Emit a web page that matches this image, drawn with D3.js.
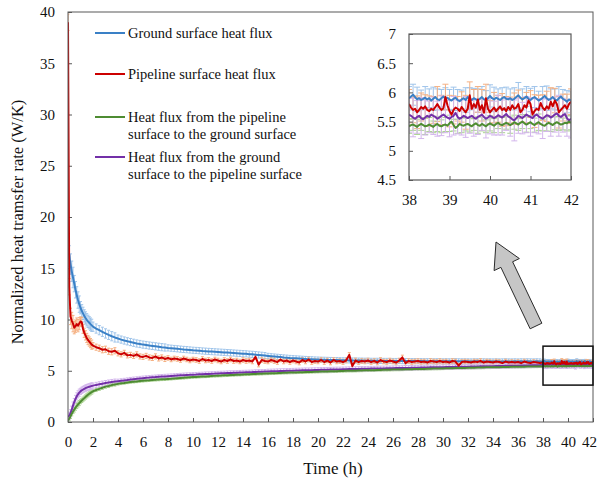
<!DOCTYPE html>
<html>
<head>
<meta charset="utf-8">
<script src="https://cdn.jsdelivr.net/npm/d3@7"></script>
<style>
  html, body { margin: 0; padding: 0; background: #fff; }
  svg { display: block; font-family: "Liberation Serif", "Times New Roman", serif; }
</style>
</head>
<body>
<svg id="chart" width="598" height="480"></svg>
<script>
// ---- sampling grid (hours) ----
const tEarly = d3.range(0, 1.95, 0.1);        // 0 .. 1.9
const tMid   = d3.range(2, 37.9, 0.25);       // 2 .. 37.75
const tLate  = d3.range(0, 81).map(i => 38 + i * 0.05); // 38 .. 42

// ---- ground surface heat flux ----
const blueEarly = [17.0, 16.2, 15.4, 14.7, 14.1, 13.5, 12.9, 12.4, 11.9, 11.5, 11.15, 10.85, 10.6, 10.35, 10.15, 9.97, 9.82, 9.68, 9.55, 9.43];
const blueMid = [
  9.3, 9.12, 8.96, 8.8, 8.64, 8.5, 8.37, 8.25,
  8.14, 8.04, 7.95, 7.87, 7.8, 7.73, 7.66, 7.61,
  7.55, 7.51, 7.46, 7.42, 7.38, 7.34, 7.3, 7.27,
  7.23, 7.2, 7.17, 7.14, 7.11, 7.08, 7.06, 7.03,
  7.0, 6.98, 6.96, 6.93, 6.91, 6.89, 6.87, 6.85,
  6.83, 6.81, 6.79, 6.77, 6.75, 6.73, 6.71, 6.69,
  6.67, 6.65, 6.62, 6.6, 6.57, 6.54, 6.51, 6.48,
  6.45, 6.42, 6.39, 6.36, 6.33, 6.3, 6.28, 6.25,
  6.23, 6.21, 6.19, 6.17, 6.15, 6.13, 6.12, 6.1,
  6.09, 6.08, 6.07, 6.06, 6.05, 6.04, 6.04, 6.03,
  6.02, 6.02, 6.01, 6.0, 6.0, 5.99, 5.99, 5.98,
  5.98, 5.97, 5.97, 5.97, 5.96, 5.96, 5.96, 5.95,
  5.95, 5.95, 5.95, 5.94, 5.94, 5.94, 5.94, 5.94,
  5.93, 5.94, 5.93, 5.93, 5.93, 5.92, 5.93, 5.93,
  5.92, 5.93, 5.92, 5.92, 5.93, 5.92, 5.92, 5.92,
  5.92, 5.91, 5.92, 5.92, 5.91, 5.92, 5.91, 5.92,
  5.91, 5.92, 5.91, 5.91, 5.92, 5.91, 5.91, 5.92,
  5.91, 5.92, 5.91, 5.92, 5.91, 5.91, 5.92, 5.91
];
const blueLate = [
  5.9, 5.93, 5.96, 5.92, 5.88, 5.9, 5.87, 5.89, 5.91, 5.88,
  5.9, 5.86, 5.89, 5.92, 5.88, 5.87, 5.9, 5.93, 5.89, 5.91,
  5.88, 5.86, 5.89, 5.91, 5.87, 5.85, 5.88, 5.9, 5.87, 5.92,
  5.89, 5.87, 5.9, 5.88, 5.86, 5.89, 5.92, 5.88, 5.87, 5.9,
  5.94, 5.9, 5.88, 5.91, 5.89, 5.87, 5.9, 5.92, 5.89, 5.88,
  5.9, 5.87, 5.89, 5.92, 5.95, 5.91, 5.88, 5.9, 5.93, 5.89,
  5.87, 5.9, 5.92, 5.89, 5.86, 5.88, 5.91, 5.94, 5.9, 5.87,
  5.89, 5.92, 5.88, 5.86, 5.9, 5.93, 5.89, 5.87, 5.84, 5.88,
  5.86
];

// ---- pipeline surface heat flux ----
const redEarly = [39.0, 13.2, 10.3, 9.9, 9.6, 9.2, 9.35, 9.55, 9.4, 9.6, 9.8, 9.75, 9.1, 8.7, 8.45, 8.2, 8.0, 7.85, 7.7, 7.55];
const redMid = [
  7.45, 7.3, 7.2, 7.05, 7.1, 6.9, 6.85, 6.95,
  6.7, 6.6, 6.75, 6.5, 6.55, 6.45, 6.6, 6.4,
  6.35, 6.45, 6.3, 6.25, 6.4, 6.2, 6.3, 6.15,
  6.25, 6.1, 6.2, 6.15, 6.05, 6.2, 6.1, 6.0,
  6.1, 6.05, 5.95, 6.15, 6.0, 6.05, 5.95, 6.1,
  6.0, 5.9, 6.05, 5.95, 6.1, 5.95, 6.0, 5.9,
  6.05, 5.95, 6.0, 5.9, 6.35, 5.6, 6.05, 5.95,
  5.9, 6.05, 5.95, 5.85, 6.1, 5.9, 6.0, 5.85,
  6.0, 5.9, 5.8, 6.05, 5.9, 6.1, 5.85, 5.95,
  5.9, 6.05, 5.85, 6.0, 5.8, 6.05, 5.9, 5.95,
  5.85, 6.0, 6.55, 5.45, 6.0, 5.85, 5.95, 5.9,
  6.0, 5.85, 5.95, 5.8, 6.05, 5.9, 5.85, 6.0,
  5.9, 5.8, 6.0, 6.3, 5.75, 5.95, 5.85, 5.9,
  5.95, 5.85, 5.9, 5.8, 5.95, 5.9, 5.85, 5.95,
  5.85, 5.9, 5.8, 5.95, 5.9, 5.5, 5.85, 5.9,
  5.85, 5.8, 5.9, 5.85, 5.95, 5.8, 5.9, 5.85,
  5.8, 5.9, 5.85, 5.75, 5.9, 5.8, 5.85, 5.8,
  5.85, 5.75, 5.9, 5.8, 5.75, 5.85, 5.8, 5.75
];
const redLate = [
  5.8, 5.74, 5.7, 5.72, 5.66, 5.7, 5.75, 5.72, 5.76, 5.7,
  5.68, 5.72, 5.7, 5.75, 5.8, 5.74, 5.7, 5.73, 5.92, 5.78,
  5.68, 5.62, 5.7, 5.74, 5.72, 5.68, 5.75, 5.7, 5.66, 5.72,
  5.95, 5.72, 5.8, 5.74, 5.88, 5.7, 5.78, 5.65, 5.9, 5.72,
  5.66, 5.7, 5.74, 5.68, 5.72, 5.76, 5.7, 5.73, 5.68, 5.75,
  5.7, 5.78, 5.72, 5.74, 5.8, 5.66, 5.7, 5.78, 5.74, 5.86,
  5.8, 5.62, 5.68, 5.72, 5.7, 5.82, 5.74, 5.7, 5.76, 5.72,
  5.84, 5.76, 5.86, 5.8, 5.66, 5.7, 5.74, 5.78, 5.72, 5.8,
  5.84
];

// ---- heat flux from the pipeline surface to the ground surface ----
const greenEarly = [0.15, 0.32, 0.55, 0.8, 1.02, 1.22, 1.4, 1.56, 1.71, 1.85, 1.98, 2.1, 2.22, 2.33, 2.44, 2.55, 2.65, 2.75, 2.84, 2.92];
const greenMid = [
  3.0, 3.12, 3.23, 3.34, 3.45, 3.52, 3.6, 3.66,
  3.72, 3.77, 3.81, 3.86, 3.9, 3.93, 3.96, 3.99,
  4.02, 4.05, 4.07, 4.1, 4.12, 4.14, 4.16, 4.18,
  4.2, 4.22, 4.25, 4.27, 4.29, 4.31, 4.34, 4.36,
  4.38, 4.4, 4.42, 4.44, 4.45, 4.47, 4.49, 4.5,
  4.52, 4.53, 4.55, 4.56, 4.58, 4.59, 4.61, 4.62,
  4.64, 4.65, 4.66, 4.68, 4.69, 4.7, 4.71, 4.73,
  4.74, 4.75, 4.76, 4.77, 4.79, 4.8, 4.81, 4.82,
  4.83, 4.84, 4.85, 4.86, 4.87, 4.88, 4.89, 4.9,
  4.91, 4.92, 4.93, 4.93, 4.94, 4.95, 4.96, 4.97,
  4.98, 4.99, 5.0, 5.0, 5.01, 5.02, 5.03, 5.04,
  5.05, 5.06, 5.06, 5.07, 5.08, 5.09, 5.09, 5.1,
  5.11, 5.12, 5.12, 5.13, 5.14, 5.15, 5.15, 5.16,
  5.17, 5.18, 5.18, 5.19, 5.2, 5.21, 5.21, 5.22,
  5.23, 5.24, 5.24, 5.25, 5.26, 5.27, 5.27, 5.28,
  5.29, 5.29, 5.3, 5.31, 5.31, 5.32, 5.33, 5.33,
  5.34, 5.35, 5.35, 5.36, 5.36, 5.37, 5.38, 5.38,
  5.39, 5.39, 5.4, 5.41, 5.41, 5.42, 5.42, 5.43
];
const greenLate = [
  5.42, 5.44, 5.45, 5.43, 5.41, 5.44, 5.46, 5.44, 5.42, 5.43,
  5.45, 5.43, 5.41, 5.44, 5.46, 5.43, 5.42, 5.44, 5.45, 5.43,
  5.47, 5.5, 5.44, 5.39, 5.42, 5.46, 5.44, 5.43, 5.45, 5.46,
  5.44, 5.42, 5.45, 5.47, 5.44, 5.43, 5.46, 5.44, 5.42, 5.45,
  5.47, 5.45, 5.43, 5.46, 5.48, 5.45, 5.44, 5.46, 5.48, 5.46,
  5.44, 5.46, 5.49, 5.47, 5.45, 5.48, 5.5, 5.47, 5.45, 5.47,
  5.49, 5.46, 5.44, 5.47, 5.49, 5.46, 5.44, 5.43, 5.46, 5.48,
  5.46, 5.44, 5.47, 5.49, 5.47, 5.45, 5.46, 5.48, 5.47, 5.5,
  5.48
];

// ---- heat flux from the ground surface to the pipeline surface ----
const purpleEarly = [0.5, 0.62, 0.85, 1.2, 1.6, 1.95, 2.25, 2.5, 2.7, 2.86, 2.99, 3.09, 3.17, 3.24, 3.3, 3.35, 3.4, 3.44, 3.48, 3.52];
const purpleMid = [
  3.55, 3.62, 3.68, 3.74, 3.8, 3.85, 3.9, 3.94,
  3.98, 4.02, 4.06, 4.1, 4.15, 4.18, 4.21, 4.25,
  4.28, 4.31, 4.33, 4.36, 4.38, 4.41, 4.43, 4.45,
  4.47, 4.49, 4.51, 4.53, 4.55, 4.57, 4.59, 4.6,
  4.62, 4.63, 4.65, 4.66, 4.68, 4.69, 4.71, 4.72,
  4.74, 4.75, 4.76, 4.78, 4.79, 4.8, 4.81, 4.83,
  4.84, 4.85, 4.86, 4.87, 4.89, 4.9, 4.91, 4.92,
  4.93, 4.94, 4.95, 4.96, 4.97, 4.98, 4.99, 5.0,
  5.01, 5.02, 5.03, 5.04, 5.05, 5.05, 5.06, 5.07,
  5.08, 5.09, 5.1, 5.1, 5.11, 5.12, 5.13, 5.13,
  5.14, 5.15, 5.16, 5.16, 5.17, 5.18, 5.19, 5.19,
  5.2, 5.21, 5.21, 5.22, 5.23, 5.23, 5.24, 5.24,
  5.25, 5.26, 5.26, 5.27, 5.28, 5.28, 5.29, 5.29,
  5.3, 5.31, 5.31, 5.32, 5.33, 5.33, 5.34, 5.34,
  5.35, 5.36, 5.36, 5.37, 5.38, 5.38, 5.39, 5.39,
  5.4, 5.41, 5.41, 5.42, 5.43, 5.43, 5.44, 5.44,
  5.45, 5.46, 5.46, 5.47, 5.48, 5.48, 5.49, 5.49,
  5.5, 5.51, 5.51, 5.52, 5.53, 5.53, 5.54, 5.54
];
const purpleLate = [
  5.62, 5.6, 5.57, 5.55, 5.58, 5.6, 5.56, 5.54, 5.57, 5.6,
  5.58, 5.62, 5.6, 5.58, 5.55, 5.57, 5.6, 5.62, 5.59, 5.57,
  5.55, 5.58, 5.6, 5.65, 5.58, 5.55, 5.57, 5.6, 5.58, 5.56,
  5.58, 5.6, 5.57, 5.55, 5.58, 5.6, 5.62, 5.58, 5.55, 5.57,
  5.6, 5.58, 5.56, 5.58, 5.61, 5.59, 5.57, 5.6, 5.63, 5.59,
  5.57, 5.54, 5.52, 5.56, 5.6, 5.58, 5.56, 5.59, 5.62, 5.6,
  5.58, 5.56, 5.6, 5.62, 5.59, 5.57, 5.55, 5.58, 5.61, 5.6,
  5.57, 5.59, 5.62, 5.64, 5.6, 5.58, 5.61, 5.63, 5.56, 5.52,
  5.55
];

// ---- standard deviations ----
// piecewise SD for 0-38 h (bin edges in hours)
const sdEdges  = [0, 0.5, 1, 2, 4, 8, 16, 38];
const sdBlue   = [1.0, 0.8, 0.6, 0.45, 0.35, 0.3, 0.25];
const sdRed    = [0.8, 0.6, 0.45, 0.3, 0.25, 0.22, 0.22];
const sdGreen  = [0.2, 0.25, 0.2, 0.15, 0.12, 0.12, 0.12];
const sdPurple = [0.35, 0.35, 0.3, 0.25, 0.2, 0.2, 0.22];
// SD every 0.1 h for 38-42 h
const sdBlueLate = [0.2, 0.18, 0.21, 0.17, 0.19, 0.16, 0.2, 0.18, 0.15, 0.19, 0.17, 0.2, 0.18, 0.16, 0.21, 0.19, 0.17, 0.2, 0.18, 0.16, 0.19, 0.21, 0.17, 0.18, 0.2, 0.16, 0.19, 0.22, 0.18, 0.17, 0.2, 0.18, 0.16, 0.19, 0.21, 0.17, 0.18, 0.2, 0.16, 0.19, 0.15];
const sdRedLate = [0.25, 0.22, 0.28, 0.24, 0.2, 0.26, 0.23, 0.3, 0.25, 0.22, 0.27, 0.24, 0.21, 0.26, 0.29, 0.23, 0.25, 0.22, 0.27, 0.24, 0.2, 0.26, 0.23, 0.28, 0.25, 0.22, 0.27, 0.24, 0.21, 0.26, 0.23, 0.28, 0.25, 0.22, 0.26, 0.24, 0.21, 0.27, 0.23, 0.25, 0.22];
const sdGreenLate = [0.12, 0.1, 0.13, 0.11, 0.14, 0.12, 0.1, 0.13, 0.11, 0.12, 0.14, 0.1, 0.12, 0.13, 0.11, 0.12, 0.1, 0.14, 0.12, 0.11, 0.13, 0.12, 0.1, 0.13, 0.11, 0.14, 0.12, 0.1, 0.12, 0.13, 0.11, 0.12, 0.14, 0.1, 0.12, 0.13, 0.11, 0.12, 0.1, 0.13, 0.12];
const sdPurpleLate = [0.3, 0.33, 0.28, 0.35, 0.3, 0.27, 0.32, 0.3, 0.34, 0.28, 0.31, 0.33, 0.29, 0.3, 0.35, 0.28, 0.32, 0.3, 0.27, 0.33, 0.31, 0.29, 0.34, 0.3, 0.28, 0.32, 0.35, 0.3, 0.27, 0.31, 0.33, 0.29, 0.3, 0.34, 0.28, 0.32, 0.3, 0.35, 0.29, 0.31, 0.33];

// ---- labels / ticks ----
const legendLabels = [
  ["Ground surface heat flux"],
  ["Pipeline surface heat flux"],
  ["Heat flux from the pipeline", "surface to the ground surface"],
  ["Heat flux from the ground", "surface to the pipeline surface"]
];
const xTicks = [0, 2, 4, 6, 8, 10, 12, 14, 16, 18, 20, 22, 24, 26, 28, 30, 32, 34, 36, 38, 40, 42];
const yTicks = [0, 5, 10, 15, 20, 25, 30, 35, 40];
const insetXTicks = [38, 39, 40, 41, 42];
const insetYTicks = [4.5, 5, 5.5, 6, 6.5, 7];
const xTitle = "Time (h)";
const yTitle = "Normalized heat tramsfer rate (W/K)";
const zoomBox = { x0: 38, x1: 42, y0: 3.6, y1: 7.4 };

// ---- assemble series ----
const tAll = tEarly.concat(tMid, tLate);
const nLateStart = tEarly.length + tMid.length;
const series = [
  { label: legendLabels[0], color: "#3a80c6", err: "#9fc4ea", vals: blueEarly.concat(blueMid, blueLate), sd: sdBlue, sdLate: sdBlueLate },
  { label: legendLabels[1], color: "#cc0000", err: "#f5b183", vals: redEarly.concat(redMid, redLate), sd: sdRed, sdLate: sdRedLate },
  { label: legendLabels[2], color: "#4e8c32", err: "#abd392", vals: greenEarly.concat(greenMid, greenLate), sd: sdGreen, sdLate: sdGreenLate },
  { label: legendLabels[3], color: "#7330a8", err: "#d3b6ec", vals: purpleEarly.concat(purpleMid, purpleLate), sd: sdPurple, sdLate: sdPurpleLate }
];
series.forEach(s => {
  s.points = tAll.map((t, i) => {
    let sd = null;
    if (i >= nLateStart) {
      const j = i - nLateStart;
      if (j % 2 === 0) sd = s.sdLate[j / 2];
    } else {
      sd = s.sd[Math.min(s.sd.length - 1, d3.bisectRight(sdEdges, t) - 1)];
    }
    return { t, v: s.vals[i], sd, late: i >= nLateStart };
  });
});

// ---- layout ----
const svg = d3.select("#chart");
const axisColor = "#595959";
const textColor = "#111";

const x = d3.scaleLinear().domain([0, 42]).range([68, 593]);
const y = d3.scaleLinear().domain([0, 40]).range([422, 12]);

const xi = d3.scaleLinear().domain([38, 42]).range([409, 571]);
const yi = d3.scaleLinear().domain([4.5, 7]).range([180, 34]);

const defs = svg.append("defs");
defs.append("clipPath").attr("id", "clipMain").append("rect")
  .attr("x", x(0)).attr("y", y(40)).attr("width", x(42) - x(0)).attr("height", y(0) - y(40));
defs.append("clipPath").attr("id", "clipInset").append("rect")
  .attr("x", xi(38)).attr("y", yi(7)).attr("width", xi(42) - xi(38)).attr("height", yi(4.5) - yi(7));

// ---- main axes ----
const gx = svg.append("g").attr("transform", `translate(0,${y(0)})`)
  .call(d3.axisBottom(x).tickValues(xTicks).tickSize(-4).tickPadding(14).tickFormat(d3.format("d")));
const gy = svg.append("g").attr("transform", `translate(${x(0)},0)`)
  .call(d3.axisLeft(y).tickValues(yTicks).tickSize(-4).tickPadding(13).tickFormat(d3.format("d")));
[gx, gy].forEach(g => {
  g.select(".domain").remove();
  g.selectAll(".tick line").attr("stroke", axisColor);
  g.selectAll(".tick text").attr("fill", textColor).style("font-size", "15px")
    .style("font-family", "'Liberation Serif', 'Times New Roman', serif");
});
// keep the last x label inside the page edge
gx.selectAll(".tick text").filter(d => d === 42).attr("text-anchor", "end").attr("dx", "3.5");

// ---- main data ----
const mainG = svg.append("g").attr("clip-path", "url(#clipMain)");
series.forEach(s => {
  const eg = mainG.append("g").attr("stroke", s.err).attr("stroke-width", 1).attr("fill", "none");
  const pts = s.points.filter(p => p.sd !== null);
  eg.selectAll("line.bar").data(pts).join("line").attr("class", "bar")
    .attr("x1", p => x(p.t)).attr("x2", p => x(p.t))
    .attr("y1", p => y(p.v - p.sd)).attr("y2", p => y(p.v + p.sd));
  eg.selectAll("line.capHi").data(pts).join("line").attr("class", "capHi")
    .attr("x1", p => x(p.t) - 1.5).attr("x2", p => x(p.t) + 1.5)
    .attr("y1", p => y(p.v + p.sd)).attr("y2", p => y(p.v + p.sd));
  eg.selectAll("line.capLo").data(pts).join("line").attr("class", "capLo")
    .attr("x1", p => x(p.t) - 1.5).attr("x2", p => x(p.t) + 1.5)
    .attr("y1", p => y(p.v - p.sd)).attr("y2", p => y(p.v - p.sd));
});
const lineMain = d3.line().x(p => x(p.t)).y(p => y(p.v));
[0, 3, 2, 1].forEach(k => {
  mainG.append("path").datum(series[k].points)
    .attr("d", lineMain).attr("fill", "none")
    .attr("stroke", series[k].color).attr("stroke-width", 2).attr("stroke-linejoin", "round");
});

// frame
svg.append("rect")
  .attr("x", x(0)).attr("y", y(40)).attr("width", x(42) - x(0)).attr("height", y(0) - y(40))
  .attr("fill", "none").attr("stroke", axisColor).attr("stroke-width", 1);

// zoom window
svg.append("rect")
  .attr("x", x(zoomBox.x0)).attr("y", y(zoomBox.y1))
  .attr("width", x(zoomBox.x1) - x(zoomBox.x0)).attr("height", y(zoomBox.y0) - y(zoomBox.y1))
  .attr("fill", "none").attr("stroke", "#111").attr("stroke-width", 1.5);

// ---- arrow pointing to the inset ----
(function () {
  const tail = [536, 326], tip = [496, 242];
  const dx = tip[0] - tail[0], dy = tip[1] - tail[1];
  const L = Math.hypot(dx, dy);
  const u = [dx / L, dy / L], n = [-u[1], u[0]];
  const shaftHalf = 6.5, headHalf = 14, headLen = 25;
  const P = (a, b) => [tail[0] + u[0] * a + n[0] * b, tail[1] + u[1] * a + n[1] * b];
  const pts = [
    P(0, -shaftHalf), P(L - headLen, -shaftHalf), P(L - headLen, -headHalf),
    tip, P(L - headLen, headHalf), P(L - headLen, shaftHalf), P(0, shaftHalf)
  ];
  svg.append("polygon").attr("points", pts.map(p => p.join(",")).join(" "))
    .attr("fill", "#c6c6c6").attr("stroke", "#2a2a2a").attr("stroke-width", 1)
    .attr("stroke-linejoin", "miter");
})();

// ---- inset ----
svg.append("rect")
  .attr("x", xi(38)).attr("y", yi(7)).attr("width", xi(42) - xi(38)).attr("height", yi(4.5) - yi(7))
  .attr("fill", "#fff");
const insetG = svg.append("g").attr("clip-path", "url(#clipInset)");
series.forEach(s => {
  const pts = s.points.filter(p => p.late && p.sd !== null);
  const eg = insetG.append("g").attr("stroke", s.err).attr("stroke-width", 1).attr("fill", "none");
  eg.selectAll("line.bar").data(pts).join("line").attr("class", "bar")
    .attr("x1", p => xi(p.t)).attr("x2", p => xi(p.t))
    .attr("y1", p => yi(p.v - p.sd)).attr("y2", p => yi(p.v + p.sd));
  eg.selectAll("line.capHi").data(pts).join("line").attr("class", "capHi")
    .attr("x1", p => xi(p.t) - 3).attr("x2", p => xi(p.t) + 3)
    .attr("y1", p => yi(p.v + p.sd)).attr("y2", p => yi(p.v + p.sd));
  eg.selectAll("line.capLo").data(pts).join("line").attr("class", "capLo")
    .attr("x1", p => xi(p.t) - 3).attr("x2", p => xi(p.t) + 3)
    .attr("y1", p => yi(p.v - p.sd)).attr("y2", p => yi(p.v - p.sd));
});
const lineInset = d3.line().x(p => xi(p.t)).y(p => yi(p.v));
[0, 3, 2, 1].forEach(k => {
  insetG.append("path").datum(series[k].points.filter(p => p.late))
    .attr("d", lineInset).attr("fill", "none")
    .attr("stroke", series[k].color).attr("stroke-width", 2).attr("stroke-linejoin", "round");
});
const gxi = svg.append("g").attr("transform", `translate(0,${yi(4.5)})`)
  .call(d3.axisBottom(xi).tickValues(insetXTicks).tickSize(-4).tickPadding(14).tickFormat(d3.format("d")));
const gyi = svg.append("g").attr("transform", `translate(${xi(38)},0)`)
  .call(d3.axisLeft(yi).tickValues(insetYTicks).tickSize(-4).tickPadding(13).tickFormat(d => String(d)));
[gxi, gyi].forEach(g => {
  g.select(".domain").remove();
  g.selectAll(".tick line").attr("stroke", axisColor);
  g.selectAll(".tick text").attr("fill", textColor).style("font-size", "15px")
    .style("font-family", "'Liberation Serif', 'Times New Roman', serif");
});
svg.append("rect")
  .attr("x", xi(38)).attr("y", yi(7)).attr("width", xi(42) - xi(38)).attr("height", yi(4.5) - yi(7))
  .attr("fill", "none").attr("stroke", axisColor).attr("stroke-width", 1.2);

// ---- legend ----
const legendRows = [33, 74, 117, 157];
const lg = svg.append("g").style("font-size", "14.5px").attr("fill", textColor);
series.forEach((s, i) => {
  const yy = legendRows[i];
  lg.append("line").attr("x1", 95).attr("x2", 125).attr("y1", yy).attr("y2", yy)
    .attr("stroke", s.color).attr("stroke-width", 2);
  const txt = lg.append("text").attr("x", 128).attr("y", yy);
  s.label.forEach((line, j) => {
    txt.append("tspan").attr("x", 128).attr("dy", j === 0 ? "0.35em" : "16.5px").text(line);
  });
});

// ---- axis titles ----
svg.append("text").attr("x", 333).attr("y", 474).attr("text-anchor", "middle")
  .style("font-size", "17px").attr("fill", textColor).text(xTitle);
svg.append("text").attr("transform", "translate(23,222) rotate(-90)").attr("text-anchor", "middle")
  .style("font-size", "16.5px").attr("fill", textColor).text(yTitle);
</script>
</body>
</html>
